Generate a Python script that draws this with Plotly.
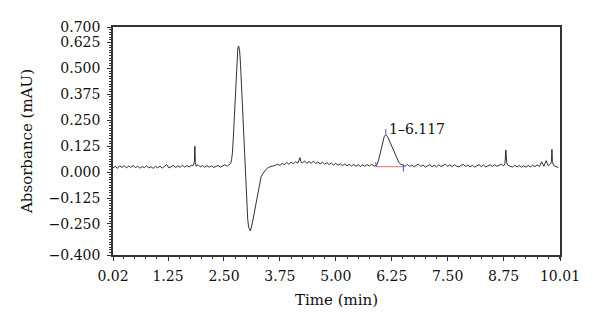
import plotly.graph_objects as go

# ---- chromatogram samples (time in min, absorbance in mAU) ----
time_min = [
    0.02, 0.07, 0.12, 0.17, 0.22, 0.27, 0.32, 0.37, 0.42, 0.47, 0.52, 0.57, 0.62, 0.67, 0.72, 0.77,
    0.82, 0.87, 0.92, 0.97, 1.02, 1.07, 1.12, 1.17, 1.22, 1.27, 1.32, 1.37, 1.42, 1.47, 1.52, 1.57,
    1.62, 1.67, 1.72, 1.77, 1.82, 1.84, 1.85, 1.86, 1.88, 1.92, 1.97, 2.02, 2.07, 2.12, 2.17, 2.22,
    2.27, 2.32, 2.37, 2.42, 2.47, 2.52, 2.57, 2.62, 2.65,
    2.67, 2.69, 2.71, 2.73, 2.75, 2.77, 2.79, 2.81, 2.83, 2.85, 2.87, 2.89, 2.91, 2.93, 2.95, 2.97,
    2.99, 3.01, 3.03, 3.05, 3.07, 3.09, 3.13, 3.17, 3.21, 3.25, 3.28, 3.30, 3.33, 3.37, 3.42, 3.48,
    3.55, 3.62,
    3.65, 3.70, 3.75, 3.80, 3.85, 3.90, 3.95, 4.00, 4.05, 4.10, 4.15, 4.18, 4.20, 4.22, 4.25, 4.30,
    4.35, 4.40, 4.45, 4.50, 4.55, 4.60, 4.65, 4.70, 4.75, 4.80, 4.85, 4.90, 4.95, 5.00, 5.05, 5.10,
    5.15, 5.20, 5.25, 5.30, 5.35, 5.40, 5.45, 5.50, 5.55, 5.60, 5.65, 5.70, 5.75, 5.80, 5.85, 5.90,
    5.93, 5.96, 5.99, 6.02, 6.05, 6.08, 6.11, 6.14, 6.17, 6.20, 6.23, 6.26, 6.29, 6.32, 6.35, 6.38,
    6.41, 6.44, 6.48, 6.52,
    6.55, 6.60, 6.65, 6.70, 6.75, 6.80, 6.85, 6.90, 6.95, 7.00, 7.05, 7.10, 7.15, 7.20, 7.25, 7.30,
    7.35, 7.40, 7.45, 7.50, 7.55, 7.60, 7.65, 7.70, 7.75, 7.80, 7.85, 7.90, 7.95, 8.00, 8.05, 8.10,
    8.15, 8.20, 8.25, 8.30, 8.35, 8.40, 8.45, 8.50, 8.55, 8.60, 8.65, 8.70, 8.75, 8.78, 8.80, 8.82,
    8.85, 8.90, 8.95, 9.00, 9.05, 9.10, 9.15, 9.20, 9.25, 9.30, 9.35, 9.40, 9.45, 9.50, 9.55, 9.60,
    9.65, 9.70, 9.75, 9.80, 9.82, 9.83, 9.84, 9.87, 9.92, 9.97,
]
absorbance = [
    0.020, 0.028, 0.018, 0.030, 0.022, 0.032, 0.020, 0.029, 0.023, 0.033, 0.021, 0.028, 0.019, 0.027, 0.021, 0.030,
    0.020, 0.026, 0.018, 0.028, 0.021, 0.029, 0.019, 0.027, 0.036, 0.020, 0.028, 0.032, 0.022, 0.030, 0.023, 0.033,
    0.024, 0.031, 0.025, 0.032, 0.033, 0.052, 0.125, 0.046, 0.028, 0.036, 0.025, 0.032, 0.023, 0.031, 0.024, 0.030,
    0.022, 0.029, 0.032, 0.024, 0.031, 0.036, 0.028, 0.035, 0.042,
    0.060, 0.095, 0.170, 0.270, 0.380, 0.480, 0.560, 0.600, 0.608, 0.585, 0.520, 0.430, 0.330, 0.220, 0.110, 0.010,
    -0.080, -0.160, -0.225, -0.265, -0.280, -0.284, -0.250, -0.205, -0.160, -0.110, -0.065, -0.040, -0.022, -0.008, 0.008, 0.020,
    0.028, 0.030,
    0.034, 0.038, 0.032, 0.042, 0.036, 0.046, 0.038, 0.048, 0.040, 0.050, 0.043, 0.055, 0.070, 0.049, 0.044, 0.054,
    0.042, 0.051, 0.043, 0.053, 0.041, 0.049, 0.040, 0.048, 0.038, 0.046, 0.036, 0.044, 0.034, 0.042, 0.033, 0.040,
    0.031, 0.039, 0.030, 0.038, 0.029, 0.037, 0.028, 0.036, 0.027, 0.035, 0.028, 0.036, 0.029, 0.037, 0.030, 0.030,
    0.040, 0.062, 0.092, 0.125, 0.152, 0.170, 0.180, 0.176, 0.165, 0.150, 0.134, 0.115, 0.098, 0.082, 0.068, 0.056,
    0.046, 0.040, 0.036, 0.033,
    0.028, 0.037, 0.027, 0.035, 0.025, 0.033, 0.038, 0.027, 0.034, 0.024, 0.032, 0.036, 0.026, 0.033, 0.025, 0.035,
    0.027, 0.034, 0.038, 0.028, 0.035, 0.026, 0.036, 0.028, 0.025, 0.033, 0.037, 0.027, 0.034, 0.025, 0.033, 0.024,
    0.032, 0.036, 0.026, 0.034, 0.025, 0.032, 0.035, 0.027, 0.036, 0.028, 0.034, 0.038, 0.030, 0.040, 0.107, 0.045,
    0.032, 0.028, 0.024, 0.033, 0.025, 0.032, 0.023, 0.031, 0.024, 0.032, 0.025, 0.033, 0.026, 0.035, 0.027, 0.050,
    0.028, 0.055, 0.030, 0.040, 0.052, 0.110, 0.050, 0.031, 0.025, 0.022,
]

# ---- integrated peak ----
peak_label = "1\u20136.117"
peak_start = [5.91, 0.030]
peak_apex = [6.117, 0.180]
peak_end = [6.51, 0.033]
peak_baseline = 0.026

# ---- axis ticks ----
x_ticks = [0.02, 1.25, 2.50, 3.75, 5.00, 6.25, 7.50, 8.75, 10.01]
x_ticktext = ["0.02", "1.25", "2.50", "3.75", "5.00", "6.25", "7.50", "8.75", "10.01"]
y_ticks = [0.700, 0.625, 0.500, 0.375, 0.250, 0.125, 0.000, -0.125, -0.250, -0.400]
y_ticktext = ["0.700", "0.625", "0.500", "0.375", "0.250", "0.125", "0.000", "\u22120.125", "\u22120.250", "\u22120.400"]

FONT = "DejaVu Serif"

fig = go.Figure()
fig.add_trace(go.Scatter(x=time_min, y=absorbance, mode="lines",
                         line=dict(color="#1a1a1a", width=0.9), hoverinfo="skip"))
# red baseline of the integrated peak
fig.add_trace(go.Scatter(x=[peak_start[0], peak_end[0]], y=[peak_baseline, peak_baseline],
                         mode="lines", line=dict(color="#e86a6a", width=1), hoverinfo="skip"))
# blue integration markers
mx = [peak_start[0], peak_start[0] - 0.02, None,
      peak_apex[0], peak_apex[0], None,
      peak_end[0], peak_end[0]]
my = [peak_start[1] - 0.004, peak_start[1] + 0.018, None,
      peak_apex[1] + 0.002, peak_apex[1] + 0.028, None,
      peak_end[1] + 0.004, peak_end[1] - 0.030]
fig.add_trace(go.Scatter(x=mx, y=my, mode="lines", line=dict(color="#3b4fd0", width=1),
                         hoverinfo="skip", connectgaps=False))

fig.add_annotation(x=peak_apex[0], y=peak_apex[1], text=peak_label, showarrow=False,
                   xanchor="left", yanchor="bottom", xshift=1, yshift=-4,
                   font=dict(family=FONT, size=14, color="#111"))

axis_common = dict(showline=True, linecolor="#333", linewidth=1.5, mirror=True,
                   showgrid=False, zeroline=False, ticks="outside", ticklen=4,
                   tickcolor="#333", automargin=False,
                   tickfont=dict(family=FONT, size=14, color="#111"))

fig.update_xaxes(range=[0.02, 10.01], tickmode="array", tickvals=x_ticks, ticktext=x_ticktext,
                 ticklabelstandoff=3,
                 title=dict(text="Time (min)", font=dict(family=FONT, size=15, color="#111"), standoff=12),
                 minor=dict(ticks="outside", ticklen=2, dtick=0.25, tick0=0.0, tickcolor="#333"),
                 **axis_common)
fig.update_yaxes(range=[-0.4, 0.7], tickmode="array", tickvals=y_ticks, ticktext=y_ticktext,
                 ticklabelstandoff=4,
                 title=dict(text="Absorbance (mAU)", font=dict(family=FONT, size=15, color="#111"), standoff=12),
                 minor=dict(ticks="outside", ticklen=2, dtick=0.0125, tick0=0.0, tickcolor="#333"),
                 **axis_common)

# the page body adds an 8px offset, so margins are 8px smaller on the top/left
fig.update_layout(width=600, height=332, margin=dict(l=105, r=48, t=19, b=85),
                  paper_bgcolor="white", plot_bgcolor="white", showlegend=False)

fig.write_html("out.html")
